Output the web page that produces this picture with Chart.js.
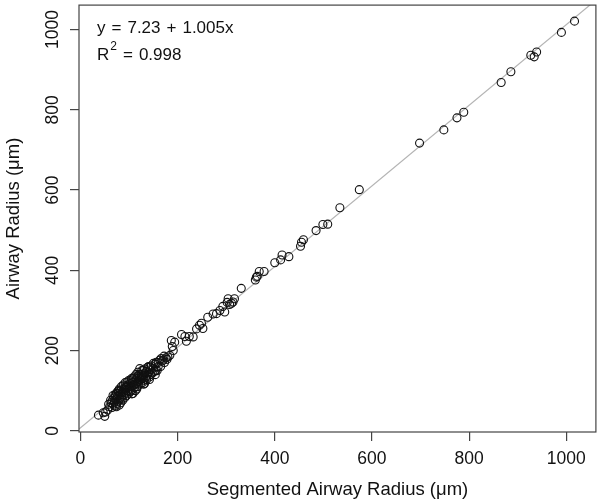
<!DOCTYPE html>
<html>
<head>
<meta charset="utf-8">
<script src="https://cdn.jsdelivr.net/npm/chart.js"></script>
<style>
  body { margin: 0; background: #fff; }
  #wrap { width: 601px; height: 504px; }
</style>
</head>
<body>
<div id="wrap"><canvas id="radius"></canvas></div>
<script>
const segmented = [37, 47, 50, 52, 56, 60, 58, 63, 65, 66, 68, 69, 70, 71, 72, 73, 74, 75, 76, 77, 78, 79, 80, 80, 81, 82, 83, 84, 85, 86, 87, 88, 89, 90, 91, 92, 93, 94, 95, 96, 97, 98, 99, 100, 101, 102, 103, 104, 105, 106, 107, 108, 109, 110, 111, 112, 113, 114, 115, 116, 117, 118, 119, 120, 121, 122, 123, 124, 125, 126, 127, 128, 129, 130, 131, 132, 133, 134, 135, 137, 138, 140, 142, 143, 144, 146, 148, 150, 152, 154, 156, 158, 160, 163, 165, 168, 170, 173, 176, 180, 184, 187, 189, 191, 194, 208, 215, 218, 224, 232, 239, 245, 249, 252, 262, 273, 280, 287, 293, 297, 302, 304, 307, 311, 314, 317, 331, 360, 362, 364, 368, 378, 400, 412, 415, 429, 453, 455, 459, 485, 499, 509, 534, 574, 698, 748, 775, 789, 866, 886, 927, 934, 939, 990, 1017, 67, 74, 78, 84, 88, 92, 96, 100, 104, 108, 112, 116, 120, 124, 128, 132, 136, 140, 145, 150, 155, 160, 166, 172, 178, 62, 72, 82, 94, 106, 118, 130, 142, 154];
const airway = [39, 45, 36, 47, 52, 60, 66, 70, 58, 76, 66, 82, 72, 90, 62, 78, 94, 68, 86, 98, 74, 88, 64, 104, 80, 94, 70, 110, 86, 98, 76, 114, 90, 104, 82, 120, 96, 108, 88, 122, 100, 114, 92, 126, 106, 118, 98, 110, 130, 102, 120, 93, 114, 134, 108, 124, 100, 140, 118, 130, 110, 146, 122, 114, 134, 155, 126, 118, 140, 150, 130, 120, 151, 136, 126, 154, 142, 132, 148, 138, 158, 146, 134, 159, 152, 162, 144, 156, 148, 166, 171, 150, 170, 176, 160, 174, 176, 170, 182, 184, 188, 225, 210, 200, 221, 240, 235, 223, 235, 234, 254, 263, 268, 255, 283, 291, 292, 300, 310, 296, 320, 329, 315, 318, 321, 329, 355, 376, 383, 385, 397, 397, 419, 426, 438, 434, 460, 470, 476, 499, 514, 515, 556, 601, 717, 750, 780, 794, 868, 895, 936, 932, 944, 993, 1021, 88, 60, 100, 78, 96, 104, 110, 98, 124, 130, 116, 104, 140, 132, 138, 118, 128, 160, 140, 168, 150, 160, 180, 186, 178, 76, 86, 100, 112, 92, 136, 116, 128, 140];

// fitted line and tick labels
const intercept = 7.23;
const slope = 1.005;
const rSquared = 0.998;
const xTicks = [0, 200, 400, 600, 800, 1000];
const yTicks = [0, 200, 400, 600, 800, 1000];
const axisMin = -3, axisMax = 1061;

const FONT = '"Liberation Sans", Arial, sans-serif';
const INK = '#111';
const AXIS = '#444';

const points = segmented.map((x, i) => ({ x: x, y: airway[i] }));
const fitLine = [axisMin, axisMax].map(x => ({ x: x, y: intercept + slope * x }));

// draws pieces left to right with a fixed gap, like plotmath spacing
function drawPieces(ctx, pieces, x, y) {
  pieces.forEach(p => {
    ctx.font = p.size + 'px ' + FONT;
    ctx.fillText(p.t, x, y + (p.dy || 0));
    x += ctx.measureText(p.t).width + (p.gap || 0);
  });
}

const framePlugin = {
  id: 'frame',
  afterDraw(chart) {
    const ctx = chart.ctx, a = chart.chartArea, ys = chart.scales.y;
    ctx.save();
    ctx.strokeStyle = AXIS;
    ctx.lineWidth = 1.2;
    ctx.strokeRect(a.left, a.top, a.right - a.left, a.bottom - a.top);

    // y tick labels, parallel to the axis like base R
    ctx.fillStyle = INK;
    ctx.font = '17.5px ' + FONT;
    ctx.textAlign = 'center';
    ctx.textBaseline = 'alphabetic';
    yTicks.forEach(v => {
      ctx.save();
      ctx.translate(58, ys.getPixelForValue(v));
      ctx.rotate(-Math.PI / 2);
      ctx.fillText(String(v), 0, 0);
      ctx.restore();
    });

    // equation and R^2
    ctx.textAlign = 'left';
    drawPieces(ctx, [
      { t: 'y', size: 17, gap: 6 }, { t: '=', size: 17, gap: 6 },
      { t: String(intercept), size: 17, gap: 6 }, { t: '+', size: 17, gap: 6 },
      { t: slope.toFixed(3) + 'x', size: 17 }
    ], 97, 33);
    drawPieces(ctx, [
      { t: 'R', size: 17, gap: 1 }, { t: '2', size: 12, dy: -10, gap: 6 },
      { t: '=', size: 17, gap: 6 }, { t: rSquared.toFixed(3), size: 17 }
    ], 97, 60);
    ctx.restore();
  }
};

new Chart(document.getElementById('radius'), {
  type: 'scatter',
  data: {
    datasets: [
      {
        data: points,
        order: 0,
        pointStyle: 'circle',
        pointRadius: 4,
        pointBorderWidth: 1.1,
        pointBorderColor: '#111',
        pointBackgroundColor: 'rgba(0,0,0,0)',
        showLine: false
      },
      {
        type: 'line',
        data: fitLine,
        order: 1,
        borderColor: '#b4b4b4',
        borderWidth: 1.2,
        pointRadius: 0,
        fill: false
      }
    ]
  },
  options: {
    responsive: true,
    maintainAspectRatio: false,
    animation: false,
    layout: { padding: { top: 4, right: 4, left: 0, bottom: 0 } },
    plugins: { legend: { display: false }, tooltip: { enabled: false } },
    scales: {
      x: {
        type: 'linear',
        min: axisMin,
        max: axisMax,
        afterBuildTicks: s => { s.ticks = xTicks.map(v => ({ value: v })); },
        afterFit: s => { s.height = 72; },
        border: { display: false },
        grid: { drawOnChartArea: false, drawTicks: true, tickLength: 9, color: AXIS, lineWidth: 1.2 },
        ticks: { color: INK, font: { size: 17.5, family: FONT }, padding: 8, maxRotation: 0, callback: v => String(v) },
        title: {
          display: true,
          text: 'Segmented Airway Radius (μm)',
          color: INK,
          font: { size: 18.5, family: FONT },
          padding: { top: 0, bottom: 3 }
        }
      },
      y: {
        type: 'linear',
        min: axisMin,
        max: axisMax,
        afterBuildTicks: s => { s.ticks = yTicks.map(v => ({ value: v })); },
        afterFit: s => { s.width = 79; },
        border: { display: false },
        grid: { drawOnChartArea: false, drawTicks: true, tickLength: 9, color: AXIS, lineWidth: 1.2 },
        ticks: { display: false },
        title: {
          display: true,
          text: 'Airway Radius (μm)',
          color: INK,
          font: { size: 18.5, family: FONT },
          padding: { top: 3, bottom: 0 }
        }
      }
    }
  },
  plugins: [framePlugin]
});
</script>
</body>
</html>
